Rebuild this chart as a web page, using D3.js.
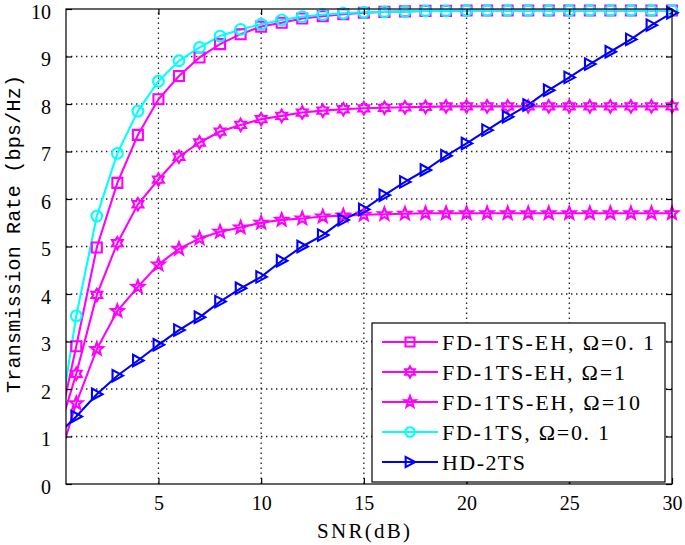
<!DOCTYPE html>
<html>
<head>
<meta charset="utf-8">
<script src="https://cdn.jsdelivr.net/npm/d3@7"></script>
<style>
  html, body { margin: 0; padding: 0; background: #fff; }
  svg { display: block; }
</style>
</head>
<body>
<svg id="chart" width="685" height="545"></svg>
<script>
// ---------------- data ----------------
const snr = [0,1,2,3,4,5,6,7,8,9,10,11,12,13,14,15,16,17,18,19,20,21,22,23,24,25,26,27,28,29,30];

const fdEh01 = [0.9,2.90,4.98,6.34,7.35,8.10,8.59,8.98,9.26,9.47,9.63,9.71,9.80,9.85,9.89,9.92,9.94,9.95,9.96,9.96,9.97,9.97,9.97,9.97,9.97,9.97,9.97,9.97,9.97,9.97,9.97];
const fdEh1  = [0.9,2.32,3.98,5.07,5.89,6.41,6.89,7.19,7.42,7.56,7.68,7.75,7.82,7.86,7.89,7.91,7.92,7.93,7.94,7.95,7.95,7.95,7.95,7.95,7.95,7.95,7.95,7.95,7.95,7.95,7.95];
const fdEh10 = [0.3,1.70,2.84,3.64,4.15,4.62,4.95,5.17,5.31,5.40,5.50,5.56,5.59,5.63,5.65,5.67,5.68,5.69,5.70,5.70,5.70,5.70,5.70,5.70,5.70,5.70,5.70,5.70,5.70,5.70,5.70];
const fd01   = [0.8,3.54,5.64,6.96,7.85,8.48,8.91,9.19,9.43,9.57,9.68,9.77,9.84,9.88,9.91,9.93,9.94,9.95,9.96,9.96,9.97,9.97,9.97,9.97,9.97,9.97,9.97,9.97,9.97,9.97,9.97];
const hd2ts  = [1.0,1.42,1.89,2.28,2.60,2.93,3.24,3.51,3.84,4.12,4.36,4.70,5.00,5.24,5.56,5.78,6.08,6.36,6.61,6.91,7.17,7.45,7.73,7.98,8.29,8.56,8.84,9.10,9.36,9.66,9.92];

const seriesNames = ["FD-1TS-EH, Ω=0. 1", "FD-1TS-EH, Ω=1", "FD-1TS-EH, Ω=10", "FD-1TS, Ω=0. 1", "HD-2TS"];
const xTicks = [5,10,15,20,25,30];
const yTicks = [0,1,2,3,4,5,6,7,8,9,10];
const xLabel = "SNR(dB)";
const yLabel = "Transmission Rate (bps/Hz)";

// ---------------- layout ----------------
const L = 66, R = 672, T = 9, B = 484;
const x = d3.scaleLinear().domain([0.5, 30]).range([L, R]);
const y = d3.scaleLinear().domain([0, 10]).range([B, T]);

const svg = d3.select("#chart");

// custom symbols
const symHexagram = {
  draw(ctx, size) {
    const r = Math.sqrt(size) * 0.62, ri = r / Math.sqrt(3);
    for (let i = 0; i < 12; i++) {
      const a = -Math.PI / 2 + i * Math.PI / 6;
      const rr = i % 2 === 0 ? r : ri;
      const px = rr * Math.cos(a), py = rr * Math.sin(a);
      if (i === 0) ctx.moveTo(px, py); else ctx.lineTo(px, py);
    }
    ctx.closePath();
  }
};
const symPentagram = {
  draw(ctx, size) {
    const r = Math.sqrt(size) * 0.66, ri = r * 0.42;
    for (let i = 0; i < 10; i++) {
      const a = -Math.PI / 2 + i * Math.PI / 5;
      const rr = i % 2 === 0 ? r : ri;
      const px = rr * Math.cos(a), py = rr * Math.sin(a);
      if (i === 0) ctx.moveTo(px, py); else ctx.lineTo(px, py);
    }
    ctx.closePath();
  }
};
const symTriRight = {
  draw(ctx, size) {
    const r = Math.sqrt(size) * 0.5;
    ctx.moveTo(r, 0);
    ctx.lineTo(-r * 0.85, r);
    ctx.lineTo(-r * 0.85, -r);
    ctx.closePath();
  }
};

const series = [
  { name: seriesNames[0], values: fdEh01, color: "#ff00ff", sym: d3.symbolSquare, size: 100 },
  { name: seriesNames[1], values: fdEh1,  color: "#ff00ff", sym: symHexagram, size: 100 },
  { name: seriesNames[2], values: fdEh10, color: "#ff00ff", sym: symPentagram, size: 100 },
  { name: seriesNames[3], values: fd01,   color: "#00ffff", sym: d3.symbolCircle, size: 90 },
  { name: seriesNames[4], values: hd2ts,  color: "#0000ff", sym: symTriRight, size: 130 }
];

// grid (dotted)
const grid = svg.append("g").attr("stroke", "#222").attr("stroke-width", 1.3)
  .attr("stroke-dasharray", "1.4,3.6");
xTicks.filter(t => t < 30).forEach(t => {
  grid.append("line").attr("x1", x(t)).attr("x2", x(t)).attr("y1", B).attr("y2", T);
});
yTicks.filter(t => t > 0 && t < 10).forEach(t => {
  grid.append("line").attr("x1", L).attr("x2", R).attr("y1", y(t)).attr("y2", y(t));
});

// clip for lines (x range only)
svg.append("clipPath").attr("id", "clipx").append("rect")
  .attr("x", L).attr("y", 0).attr("width", R - L).attr("height", 545);

const line = d3.line().x((d, i) => x(snr[i])).y(d => y(d));

// lines
series.forEach(s => {
  svg.append("path").attr("d", line(s.values))
    .attr("fill", "none").attr("stroke", s.color).attr("stroke-width", 2.1)
    .attr("clip-path", "url(#clipx)");
});

// markers
series.forEach(s => {
  const sym = d3.symbol().type(s.sym).size(s.size);
  svg.append("g").selectAll("path")
    .data(s.values.map((v, i) => [snr[i], v]).filter(d => d[0] >= 0.5))
    .join("path")
    .attr("transform", d => `translate(${x(d[0])},${y(d[1])})`)
    .attr("d", sym())
    .attr("fill", "none").attr("stroke", s.color).attr("stroke-width", 2.1);
});

// axes box and ticks
const axesG = svg.append("g");
axesG.append("rect").attr("x", L).attr("y", T).attr("width", R - L).attr("height", B - T)
  .attr("fill", "none").attr("stroke", "#000").attr("stroke-width", 1.2);

const xAxisB = d3.axisBottom(x).tickValues(xTicks).tickSize(-6).tickPadding(12).tickFormat(d3.format("d"));
const xAxisT = d3.axisTop(x).tickValues(xTicks).tickSize(-6).tickFormat("");
const yAxisL = d3.axisLeft(y).tickValues(yTicks).tickSize(-6).tickPadding(15).tickFormat(d3.format("d"));
const yAxisR = d3.axisRight(y).tickValues(yTicks).tickSize(-6).tickFormat("");

function styleAxis(g) {
  g.select(".domain").remove();
  g.selectAll(".tick line").attr("stroke", "#000").attr("stroke-width", 1.2);
  g.selectAll(".tick text").attr("fill", "#000")
    .style("font-family", "'Liberation Serif', 'DejaVu Serif', serif").style("font-size", "20px");
}
svg.append("g").attr("transform", `translate(0,${B})`).call(xAxisB).call(styleAxis)
  .selectAll(".tick text").attr("dy", "0.71em");
svg.append("g").attr("transform", `translate(0,${T})`).call(xAxisT).call(styleAxis);
svg.append("g").attr("transform", `translate(${L},0)`).call(yAxisL).call(styleAxis)
  .selectAll(".tick text").attr("dy", "0.45em");
svg.append("g").attr("transform", `translate(${R},0)`).call(yAxisR).call(styleAxis);

// axis labels
svg.append("text").attr("x", 317).attr("y", 538)
  .attr("textLength", 93).attr("lengthAdjust", "spacing")
  .style("font-family", "'Liberation Serif', serif").style("font-size", "21px")
  .text(xLabel);
svg.append("text")
  .attr("transform", "translate(20,234) rotate(-90)")
  .attr("text-anchor", "middle")
  .attr("textLength", 318).attr("lengthAdjust", "spacing")
  .style("font-family", "'Liberation Mono', monospace").style("font-size", "20px")
  .text(yLabel);

// legend
const lg = svg.append("g");
lg.append("rect").attr("x", 372).attr("y", 323).attr("width", 293).attr("height", 159)
  .attr("fill", "#fff").attr("stroke", "#000").attr("stroke-width", 1.2);
const legendWidths = [212, 183, 198, 167, 83];
series.forEach((s, i) => {
  const yy = 342 + i * 30;
  lg.append("line").attr("x1", 382).attr("x2", 438).attr("y1", yy).attr("y2", yy)
    .attr("stroke", s.color).attr("stroke-width", 2.1);
  lg.append("path").attr("transform", `translate(410,${yy})`)
    .attr("d", d3.symbol().type(s.sym).size(s.size * 0.8)())
    .attr("fill", "none").attr("stroke", s.color).attr("stroke-width", 2.1);
  lg.append("text").attr("x", 442).attr("y", yy + 7.5)
    .attr("textLength", legendWidths[i]).attr("lengthAdjust", "spacing")
    .style("font-family", "'Liberation Serif', serif").style("font-size", "22px")
    .text(s.name);
});
</script>
</body>
</html>
